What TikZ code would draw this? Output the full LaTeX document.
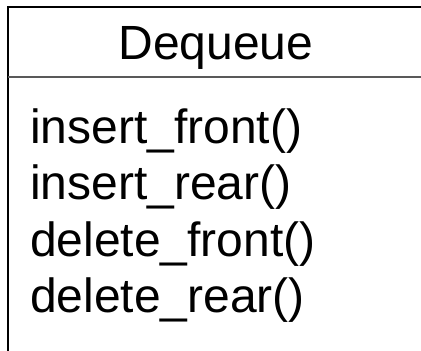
\documentclass[tikz,border=0pt]{standalone}
\usepackage{fontspec}
\setmainfont{Liberation Sans}
\begin{document}
\begin{tikzpicture}[x=1bp,y=-1bp,
  frame/.style={line width=1.5bp,black},
  divider/.style={line width=2bp,black!65},
  label/.style={inner sep=0pt,font=\fontsize{48bp}{56bp}\selectfont},
  member/.style={label,anchor=base west}]
  \useasboundingbox (0,0) rectangle (421,351);
  % outline of the class box (cut at the right and bottom edges)
  \coordinate (tl) at (8,7);
  \coordinate (tr) at (421,7);
  \coordinate (bl) at (8,351);
  \coordinate (dl) at (8,77);
  \coordinate (dr) at (421,77);
  \draw[frame] (bl) -- (tl) -- (tr);
  \draw[divider] (dl) -- (dr);
  % class name
  \node[label,anchor=base] (name) at (216,59) {Dequeue};
  % operations
  \node[member] (m1) at (30,143) {insert\_front()};
  \node[member] (m2) at (30,199) {insert\_rear()};
  \node[member] (m3) at (30,256) {delete\_front()};
  \node[member] (m4) at (30,312) {delete\_rear()};
\end{tikzpicture}
\end{document}
